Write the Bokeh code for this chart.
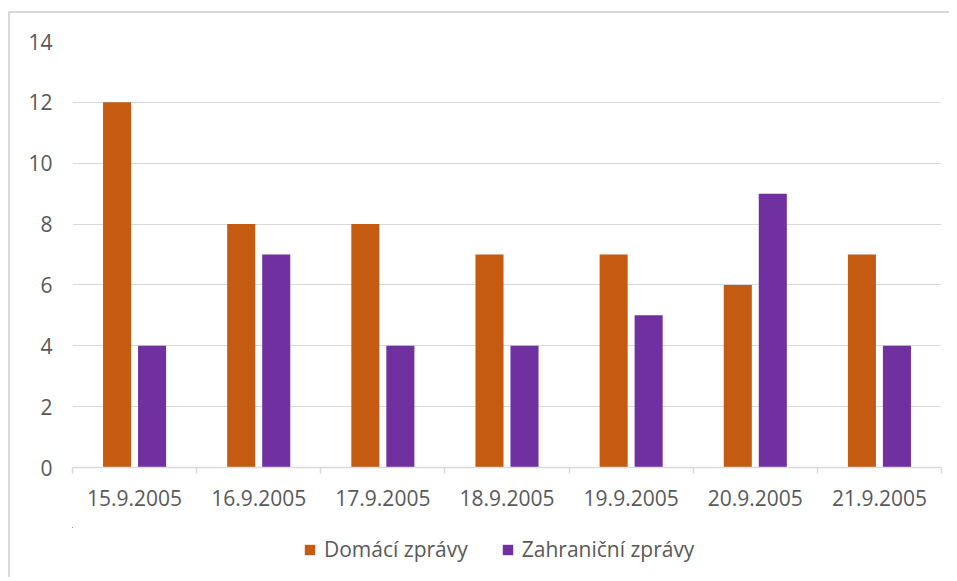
from bokeh.plotting import figure
from bokeh.layouts import column
from bokeh.models import ColumnDataSource, FixedTicker, Legend, LegendItem, Range1d
from bokeh.transform import dodge
from bokeh.embed import file_html
from bokeh.resources import INLINE

dates = ["15.9.2005", "16.9.2005", "17.9.2005", "18.9.2005", "19.9.2005", "20.9.2005", "21.9.2005"]
domaci = [12, 8, 8, 7, 7, 6, 7]
zahranicni = [4, 7, 4, 4, 5, 9, 4]
y_ticks = [0, 2, 4, 6, 8, 10, 12, 14]
series_names = ["Domácí zprávy", "Zahraniční zprávy"]
series_fields = ["domaci", "zahranicni"]
series_colors = ["#C55A11", "#7030A0"]

idx = list(range(len(dates)))
source = ColumnDataSource(dict(x=idx, domaci=domaci, zahranicni=zahranicni))

FONT = "Open Sans"
TXT = "#595959"
GRID = "#d9d9d9"

p = figure(frame_width=869, frame_height=426, x_range=(-0.5, len(dates) - 0.5), y_range=(0, 14),
           output_backend="svg", toolbar_location=None,
           min_border_left=62, min_border_right=8, min_border_top=28, min_border_bottom=60)
p.outline_line_color = None

for field, col, off in zip(series_fields, series_colors, [-0.141, 0.141]):
    p.vbar(x=dodge("x", off, range=p.x_range), top=field, width=0.226,
           fill_color=col, line_color=None, source=source)

p.xgrid.visible = False
p.ygrid.grid_line_color = GRID
p.ygrid.grid_line_width = 1

p.yaxis.ticker = FixedTicker(ticks=y_ticks)
p.yaxis.axis_line_color = None
p.yaxis.major_tick_line_color = None
p.yaxis.minor_tick_line_color = None
p.yaxis.major_label_text_font = FONT
p.yaxis.major_label_text_font_size = "21px"
p.yaxis.major_label_text_color = TXT
p.yaxis.major_label_standoff = 14

p.xaxis.ticker = FixedTicker(ticks=idx, minor_ticks=[i - 0.5 for i in range(len(dates) + 1)])
p.xaxis.major_label_overrides = {i: d for i, d in zip(idx, dates)}
p.xaxis.axis_line_color = GRID
p.xaxis.axis_line_width = 1.5
p.xaxis.major_tick_line_color = None
p.xaxis.minor_tick_line_color = GRID
p.xaxis.minor_tick_line_width = 1.5
p.xaxis.minor_tick_out = 6
p.xaxis.minor_tick_in = 0
p.xaxis.major_label_text_font = FONT
p.xaxis.major_label_text_font_size = "21px"
p.xaxis.major_label_text_color = TXT
p.xaxis.major_label_standoff = 16

# legend strip below the chart (its bars lie far outside its visible ranges; only the swatches show)
lf = figure(width=939, height=50, x_range=Range1d(100, 101), y_range=Range1d(-2, -1),
            x_axis_type=None, y_axis_type=None, output_backend="svg", toolbar_location=None,
            min_border=0)
lf.outline_line_color = None
lf.grid.visible = False
items = []
for name, field, col in zip(series_names, series_fields, series_colors):
    r = lf.vbar(x="x", top=field, width=0.226, fill_color=col, line_color=None, source=source)
    items.append(LegendItem(label=name, renderers=[r]))

legend = Legend(items=items, orientation="horizontal", location=(231, 14))
legend.label_text_font = FONT
legend.label_text_font_size = "21px"
legend.label_text_color = TXT
legend.glyph_width = 13
legend.glyph_height = 13
legend.label_standoff = 8
legend.spacing = 33
legend.padding = 0
legend.margin = 0
legend.border_line_color = None
legend.background_fill_alpha = 0
lf.add_layout(legend, "center")

layout = column(p, lf, spacing=0)
layout.styles = {"border-top": "2px solid #d9d9d9", "border-left": "2px solid #d9d9d9",
                 "margin-left": "8px", "margin-top": "11px"}

open("out.html", "w").write(file_html(layout, INLINE))
